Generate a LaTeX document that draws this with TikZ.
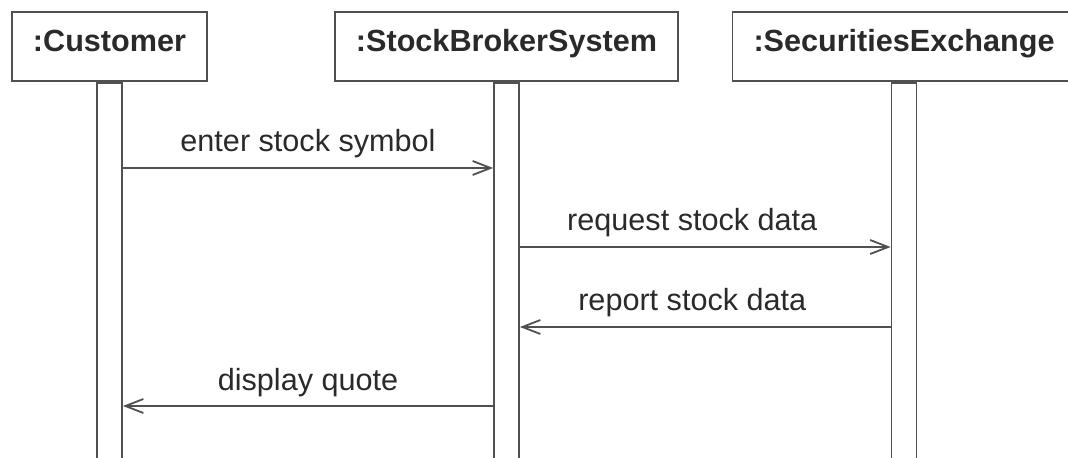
\documentclass[tikz,border=0pt]{standalone}
\usepackage{fontspec}
\setmainfont{Liberation Sans}
\usepackage{tikz}
\usetikzlibrary{positioning,arrows.meta}
\definecolor{sqline}{HTML}{505050}
\definecolor{sqtext}{HTML}{2A2A2A}

\begin{document}
\begin{tikzpicture}[x=0.5pt,y=-0.5pt,
    font=\fontsize{15.3}{18}\selectfont,
    obj/.style={draw=sqline,line width=0.9pt,fill=white,text=sqtext,font=\fontsize{15.3}{18}\selectfont\bfseries,
      minimum height=34.5pt,inner xsep=10.5pt,text height=0.72em,text depth=0.2em},
    lifebar/.style={draw=sqline,line width=0.9pt,fill=white,minimum width=12.5pt,minimum height=194.5pt,inner sep=0pt},
    msg/.style={draw=sqline,line width=0.9pt,-{Straight Barb[length=9pt,width=7pt]}},
    lbl/.style={text=sqtext,anchor=base,inner sep=0pt}]
  \useasboundingbox (0,0) rectangle (1068,458);
  \clip (0,0) rectangle (1068,458);
  % objects and their activation bars
  \foreach \nm/\x/\lab in {cust/109.5/{:Customer}, brok/506.5/{:StockBrokerSystem}, exch/904/{:SecuritiesExchange}}{
    \node[obj] (\nm) at (\x,46.5) {\lab};
    \node[lifebar,anchor=north] (b\nm) at (\nm.south) {};
  }
  \coordinate (m1) at (0,168);
  \coordinate (m2) at (0,247);
  \coordinate (m3) at (0,327);
  \coordinate (m4) at (0,406);
  % messages
  \foreach \n/\a/\b/\dx/\lab in {1/bcust.east/bbrok.west/0/{enter stock symbol}, 2/bbrok.east/bexch.west/-13/{request stock data}, 3/bexch.west/bbrok.east/-13/{report stock data}, 4/bbrok.west/bcust.east/0/{display quote}}{
    \draw[msg] (\a |- m\n) -- (\b |- m\n) node[lbl,midway,xshift=\dx*0.5pt,yshift=8pt] {\lab};
  }
\end{tikzpicture}
\end{document}
